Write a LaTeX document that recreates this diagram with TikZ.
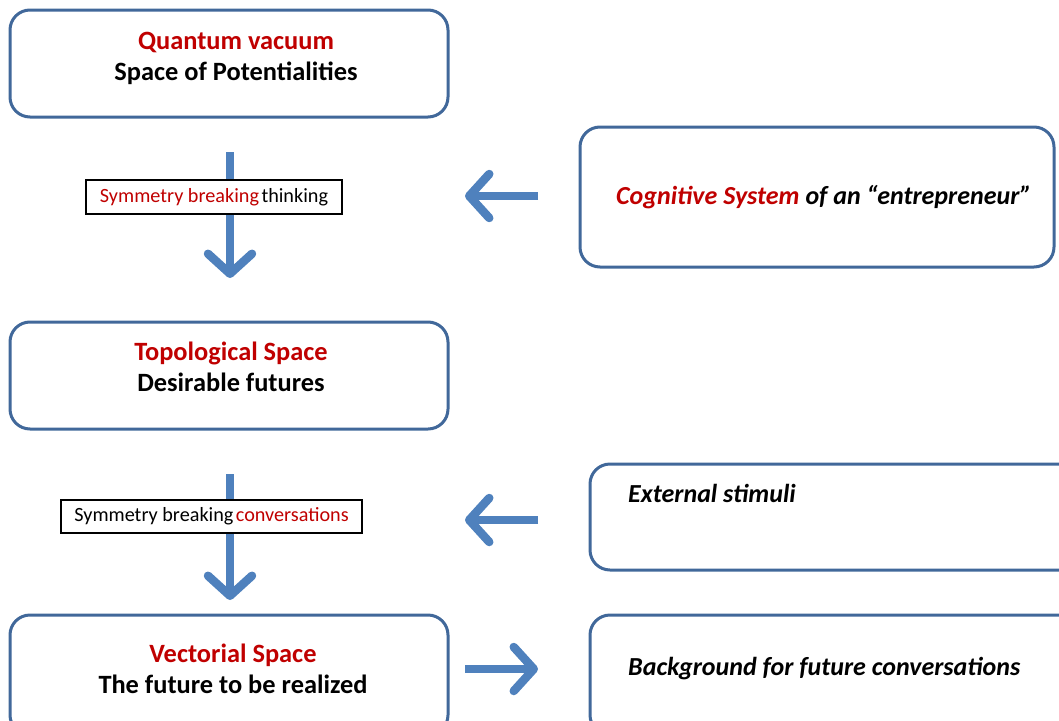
\documentclass[tikz,border=0pt]{standalone}
\usepackage{fontspec}
\setmainfont{Carlito}
\usetikzlibrary{arrows.meta}
\definecolor{boxblue}{HTML}{41689A}
\definecolor{arrowblue}{HTML}{4F81BD}
\definecolor{myred}{HTML}{C00000}
\tikzset{
  bigbox/.style={draw=boxblue, line width=3pt, rounded corners=20pt, fill=white, inner sep=0pt},
  lblbox/.style={draw=black, line width=1.2pt, fill=white, inner sep=0pt, font=\fontsize{20.2}{23}\selectfont},
  maintxt/.style={font=\bfseries\fontsize{26.4}{31}\selectfont, align=center, inner sep=0pt},
  sidetxt/.style={font=\bfseries\itshape\fontsize{26}{30}\selectfont, inner sep=0pt},
  fatarrow/.style={draw=arrowblue, line width=8.5pt, -{Straight Barb[length=20pt,width=44pt,round]}},
}
\begin{document}
\begin{tikzpicture}[x=1pt,y=-1pt]
\useasboundingbox (0,0) rectangle (1059,720);
\clip (0,0) rectangle (1059,720);
% main boxes
\node[bigbox, minimum width=438pt, minimum height=107pt] (qv) at (229,63.5) {};
\node[maintxt] (qvt) at (236,58) {\textcolor{myred}{Quantum vacuum}\\Space of Potentialities};
\node[bigbox, minimum width=438pt, minimum height=107pt] (ts) at (229,375.5) {};
\node[maintxt] (tst) at (231,367) {\textcolor{myred}{Topological Space}\\Desirable futures};
\node[bigbox, minimum width=438pt, minimum height=120pt] (vs) at (229,675) {};
\node[maintxt] (vst) at (233,669) {\textcolor{myred}{Vectorial Space}\\The future to be realized};
% side boxes
\node[bigbox, minimum width=474pt, minimum height=140pt] (cs) at (817,197) {};
\node[sidetxt, anchor=west] (cst) at (616,197) {\textcolor{myred}{Cognitive System} of an “entrepreneur”};
\node[bigbox, minimum width=490pt, minimum height=106pt] (es) at (835,517) {};
\node[sidetxt, anchor=west] (est) at (628,493) {External stimuli};
\node[bigbox, minimum width=490pt, minimum height=120pt] (bg) at (835,675) {};
\node[sidetxt, anchor=west] (bgt) at (628,669) {Background for future conversations};
% arrows
\coordinate (a1s) at (230,152); \coordinate (a1e) at (230,278);
\coordinate (a2s) at (230,474); \coordinate (a2e) at (230,600);
\coordinate (h1s) at (538,196); \coordinate (h1e) at (465,196);
\coordinate (h2s) at (538,520); \coordinate (h2e) at (465,520);
\coordinate (h3s) at (465,669); \coordinate (h3e) at (538,669);
\draw[fatarrow] (a1s) -- (a1e);
\draw[fatarrow] (a2s) -- (a2e);
\draw[fatarrow] (h1s) -- (h1e);
\draw[fatarrow] (h2s) -- (h2e);
\draw[fatarrow] (h3s) -- (h3e);
% label boxes
\node[lblbox, minimum width=256pt, minimum height=34pt] (l1) at (214,197) {\textcolor{myred}{Symmetry breaking}\hspace{2.5pt}thinking};
\node[lblbox, minimum width=301pt, minimum height=33pt] (l2) at (211.5,516.5) {Symmetry breaking\hspace{2.5pt}\textcolor{myred}{conversations}};
\end{tikzpicture}
\end{document}
